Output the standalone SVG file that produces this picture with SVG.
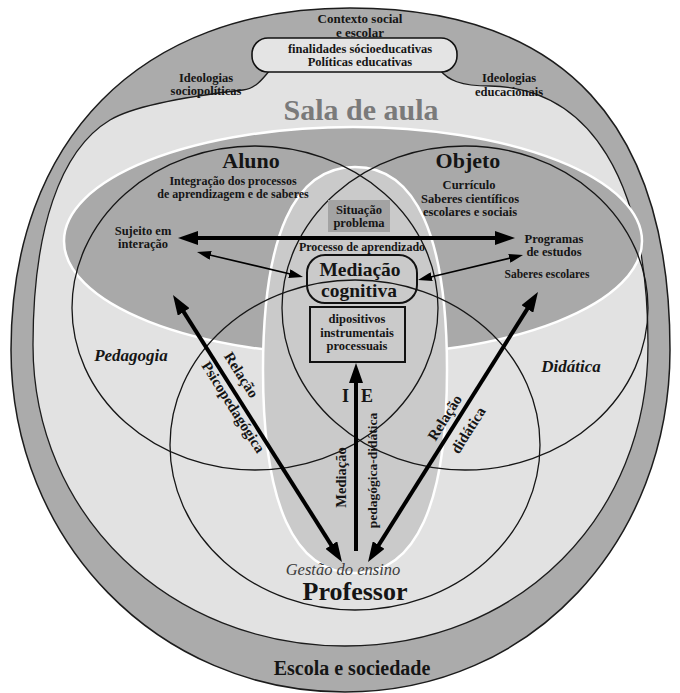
<svg xmlns="http://www.w3.org/2000/svg" width="680" height="693" viewBox="0 0 680 693">
<style>
  text { font-family: "Liberation Serif", "Times New Roman", serif; font-weight: bold; fill: #151515; text-anchor: middle; }
  .t12 { font-size: 12.5px; }
  .t11 { font-size: 11.5px; }
  .t13 { font-size: 13px; }
  .big { font-size: 22px; }
  .ital { font-style: italic; font-size: 17px; }
  .rot { font-size: 15px; }
  .venn { fill: none; stroke: #161616; stroke-width: 1.3; }
  .box { fill: none; stroke: #111; stroke-width: 2; }
  .thick { stroke: #000; stroke-width: 4; fill: none; }
  .thin { stroke: #000; stroke-width: 1.6; fill: none; }
</style>
<defs>
  <marker id="headBig" viewBox="0 0 20 14" refX="3" refY="7" markerWidth="20" markerHeight="14" markerUnits="userSpaceOnUse" orient="auto-start-reverse">
    <path d="M0,0 L20,7 L0,14 Z" fill="#000"/>
  </marker>
  <marker id="headSmall" viewBox="0 0 14 9" refX="2" refY="4.5" markerWidth="14" markerHeight="9" markerUnits="userSpaceOnUse" orient="auto-start-reverse">
    <path d="M0,0 L14,4.5 L0,9 Z" fill="#000"/>
  </marker>
</defs>

<!-- outer society band -->
<g id="escola">
  <path d="M350,8 C565,8 670,125 670,350 C670,541 532,692 345,692 C158,692 11,541 11,350 C11,140 140,8 350,8 Z" fill="#ababab" stroke="#1c1c1c" stroke-width="1.5"/>
  <text x="352" y="675" style="font-size:20px">Escola e sociedade</text>
</g>

<!-- classroom region; its upper edge runs into the goals box -->
<g id="sala">
  <path d="M33,345 C33,230 60,150 110,120 C135,105 200,95 243,90 C255,88.5 262,80 270,70 L440,70 C448,80 460,86 490,86 C590,88 648,180 648,345 C648,515 520,646 345,646 C170,646 33,515 33,345 Z" fill="#e2e2e2" stroke="#1c1c1c" stroke-width="1.3"/>
  <text x="361" y="120" style="font-size:30px; fill:#7a7a7a">Sala de aula</text>
</g>

<!-- student / object zone -->
<ellipse id="zona-aluno-objeto" cx="353" cy="241" rx="289" ry="114" fill="#a9a9a9" stroke="#ffffff" stroke-width="2.5"/>

<!-- central learning zone -->
<path id="zona-central" d="M355,167 C416,167 447,236 447,370 C447,504 416,573 355,573 C294,573 263,504 263,370 C263,236 294,167 355,167 Z" fill="#cacaca" stroke="#ffffff" stroke-width="2.5"/>

<!-- the three overlapping relations -->
<g id="venn">
  <ellipse class="venn" cx="255" cy="308" rx="183" ry="162"/>
  <ellipse class="venn" cx="465" cy="308" rx="183" ry="162"/>
  <ellipse class="venn" cx="355" cy="445" rx="185" ry="165"/>
</g>

<g id="contexto">
  <text class="t13" x="360" y="23">Contexto social</text>
  <text class="t13" x="360" y="37">e escolar</text>
</g>

<g id="finalidades">
  <rect x="252" y="38" width="205" height="34" rx="16" fill="#e4e4e4" stroke="#111" stroke-width="1.6"/>
  <text class="t12" x="360" y="53">finalidades sócioeducativas</text>
  <text class="t12" x="360" y="66">Políticas educativas</text>
</g>

<g id="ideologias-socio">
  <text class="t12" x="206" y="82">Ideologias</text>
  <text class="t12" x="206" y="95">sociopolíticas</text>
</g>

<g id="ideologias-edu">
  <text class="t12" x="509" y="82">Ideologias</text>
  <text class="t12" x="509" y="96">educacionais</text>
</g>

<g id="aluno">
  <text class="big" x="251" y="168">Aluno</text>
  <text style="font-size:12px" x="233" y="185">Integração dos processos</text>
  <text style="font-size:12px" x="233" y="198">de aprendizagem e de saberes</text>
</g>

<g id="objeto">
  <text class="big" x="468" y="168">Objeto</text>
  <text class="t12" x="469" y="189">Currículo</text>
  <text class="t12" x="470" y="203">Saberes científicos</text>
  <text class="t12" x="470" y="216">escolares e sociais</text>
</g>

<g id="situacao">
  <rect x="328" y="200" width="62" height="32" fill="#a3a3a3"/>
  <text class="t12" x="359" y="214">Situação</text>
  <text class="t12" x="359" y="227">problema</text>
</g>

<g id="sujeito">
  <text class="t12" x="143" y="235">Sujeito em</text>
  <text class="t12" x="143" y="248">interação</text>
</g>

<g id="programas">
  <text class="t12" x="554" y="243">Programas</text>
  <text class="t12" x="554" y="256">de estudos</text>
</g>

<g id="saberes-escolares">
  <text class="t11" x="547" y="278">Saberes escolares</text>
</g>

<g id="processo">
  <text style="font-size:12px" x="362" y="251">Processo de aprendizado</text>
</g>

<g id="mediacao">
  <rect class="box" x="307" y="255" width="110" height="48" rx="18"/>
  <text x="360" y="276" style="font-size:19.5px">Mediação</text>
  <text x="359" y="297" style="font-size:19.5px">cognitiva</text>
</g>

<g id="dispositivos">
  <rect class="box" x="310" y="307" width="95" height="55"/>
  <text class="t12" x="357" y="323">dipositivos</text>
  <text class="t12" x="357" y="336.5">instrumentais</text>
  <text class="t12" x="357" y="350">processuais</text>
</g>

<g id="pedagogia">
  <text class="ital" x="131" y="361">Pedagogia</text>
</g>

<g id="didatica">
  <text class="ital" x="571" y="372">Didática</text>
</g>

<g id="professor">
  <text x="343" y="575" style="font-size:16.5px; font-style:italic; font-weight:normal; fill:#3c3c3c">Gestão do ensino</text>
  <text x="355" y="600" style="font-size:26px">Professor</text>
</g>

<!-- relations between teacher, student, object and mediation -->
<g id="conectores">
  <line class="thick" x1="195" y1="238" x2="498" y2="238" marker-start="url(#headBig)" marker-end="url(#headBig)"/>
  <line class="thin" x1="208.7" y1="254.8" x2="291.3" y2="274.2" marker-start="url(#headSmall)" marker-end="url(#headSmall)"/>
  <line class="thin" x1="429.7" y1="277.2" x2="511.3" y2="257.8" marker-start="url(#headSmall)" marker-end="url(#headSmall)"/>
  <line class="thick" x1="182.1" y1="309.4" x2="332.9" y2="547.6" marker-start="url(#headBig)" marker-end="url(#headBig)"/>
  <line class="thick" x1="528.9" y1="306.4" x2="377.1" y2="547.6" marker-start="url(#headBig)" marker-end="url(#headBig)"/>
  <line class="thick" x1="356" y1="551" x2="356" y2="380" marker-end="url(#headBig)"/>

  <g transform="translate(173,295) rotate(57.67)">
    <text class="rot" x="104" y="-10">Relação</text>
    <text class="rot" x="127" y="14">Psicopedagógica</text>
  </g>
  <g transform="translate(368,562) rotate(-57.8)">
    <text class="rot" x="163" y="-7">Relação</text>
    <text class="rot" x="165" y="19.5">didática</text>
  </g>
  <text x="346" y="477.5" transform="rotate(-90 346 477.5)" style="font-size:14.5px">Mediação</text>
  <text x="376.5" y="470.5" transform="rotate(-90 376.5 470.5)" style="font-size:13.5px">pedagógica-didática</text>
  <text x="345.5" y="402" style="font-size:18px">I</text>
  <text x="367" y="402" style="font-size:18px">E</text>
</g>
</svg>
